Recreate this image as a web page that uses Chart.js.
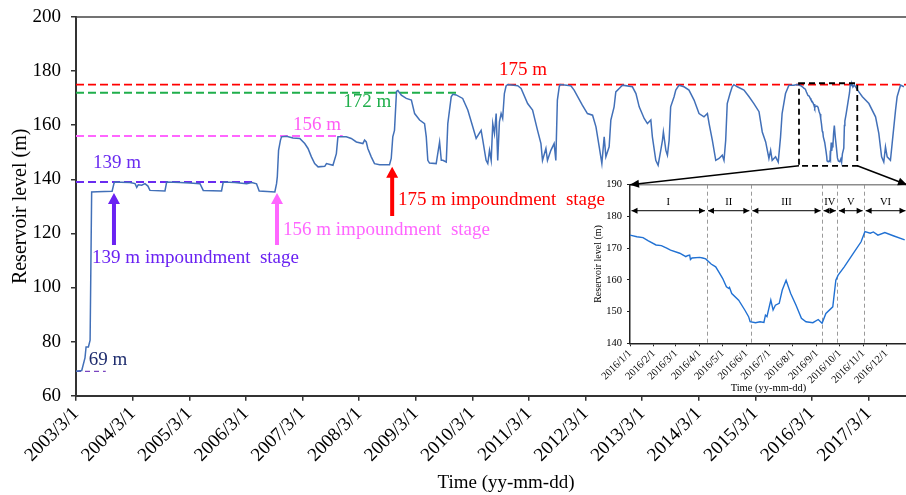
<!DOCTYPE html>
<html>
<head>
<meta charset="utf-8">
<script src="https://cdn.jsdelivr.net/npm/chart.js@4.4.1/dist/chart.umd.min.js"></script>
<style>
html, body { margin: 0; padding: 0; background: #fff; overflow: hidden; }
#wrap { position: relative; width: 906px; height: 495px; overflow: hidden; }
#wrap canvas { position: absolute; left: 0; top: 0; }
</style>
</head>
<body>
<div id="wrap">
  <canvas id="main" width="936" height="495"></canvas>
  <canvas id="inset" width="936" height="495"></canvas>
</div>
<script>
const SERIF = "'Liberation Serif','Times New Roman',serif";
const DAY_MS = 86400000;
const dayNum = s => Date.parse(s + 'T00:00:00Z') / DAY_MS;

// ---- Reservoir water level, 2003-2015 ----
const levelDates = [
  '2003-03-01','2003-04-07','2003-04-28','2003-05-05','2003-05-20','2003-05-31','2003-06-10','2003-07-15','2003-09-01','2003-10-20','2003-11-01','2003-11-07','2003-12-15',
  '2004-02-11','2004-03-16','2004-03-27','2004-04-06','2004-04-28','2004-05-19','2004-06-07','2004-06-20','2004-09-25','2004-10-06',
  '2005-01-01','2005-03-05','2005-05-09','2005-05-30','2005-09-25','2005-10-06','2005-12-20',
  '2006-03-06','2006-04-09','2006-05-09','2006-05-26','2006-09-04','2006-09-15','2006-09-20','2006-09-28','2006-10-10','2006-10-17','2006-11-18','2006-12-30',
  '2007-02-12','2007-03-16','2007-04-06','2007-04-28','2007-05-19','2007-06-10','2007-07-23','2007-08-03','2007-09-14','2007-10-06','2007-10-16','2007-12-09',
  '2008-01-10','2008-02-12','2008-03-25','2008-04-05','2008-04-16','2008-04-26','2008-05-18','2008-06-08','2008-07-11','2008-09-13','2008-09-24','2008-10-04','2008-10-15','2008-10-28','2008-11-06','2008-11-28','2008-12-30',
  '2009-02-01','2009-02-22','2009-03-26','2009-04-27','2009-05-08','2009-05-18','2009-05-29','2009-07-11','2009-08-02','2009-08-13','2009-08-23','2009-09-14','2009-09-24','2009-10-16','2009-10-26','2009-11-17','2009-12-29',
  '2010-01-31','2010-03-04','2010-03-26','2010-04-27','2010-05-08','2010-05-29','2010-06-09','2010-06-20','2010-07-01','2010-07-11','2010-07-22','2010-08-02','2010-08-12','2010-08-23','2010-09-03','2010-09-13','2010-09-24','2010-10-05','2010-10-16','2010-12-19',
  '2011-01-10','2011-02-21','2011-03-25','2011-04-26','2011-05-18','2011-05-28','2011-06-19','2011-06-29','2011-07-21','2011-08-11','2011-08-22','2011-09-01','2011-09-13','2011-09-19','2011-11-27','2011-12-18',
  '2012-02-09','2012-03-13','2012-04-15','2012-05-07','2012-05-28','2012-06-14','2012-06-29','2012-07-10','2012-07-31','2012-08-11','2012-09-01','2012-09-12','2012-10-15','2012-10-25','2012-12-28',
  '2013-01-20','2013-02-10','2013-03-14','2013-04-04','2013-04-26','2013-05-06','2013-05-28','2013-06-12','2013-06-29','2013-07-10','2013-07-16','2013-08-01','2013-08-11','2013-08-22','2013-09-01','2013-09-23','2013-10-04','2013-10-25','2013-11-26','2013-12-28',
  '2014-01-30','2014-03-03','2014-04-04','2014-04-26','2014-05-07','2014-05-28','2014-06-19','2014-07-10','2014-07-31','2014-08-11','2014-08-22','2014-09-01','2014-09-19','2014-10-03','2014-10-14','2014-11-05','2014-12-18',
  '2015-01-20','2015-02-20','2015-03-25','2015-04-15','2015-05-07','2015-05-28','2015-06-08','2015-06-18','2015-07-10','2015-07-27','2015-08-11','2015-08-21','2015-09-12','2015-10-04','2015-11-05','2015-11-26','2015-12-20'
];
const levelValues = [
  69.0,69.3,74.0,78.0,78.0,80.5,135.3,135.4,135.5,135.6,138.5,139.0,138.9,
  138.8,138.4,137.0,138.0,137.8,138.4,137.5,135.9,135.7,139.0,
  138.8,138.6,138.4,135.9,135.7,139.0,138.8,
  138.4,138.8,138.3,135.7,135.3,138.4,141.0,150.7,154.4,155.7,155.9,155.3,
  155.1,153.2,151.4,148.3,145.8,144.6,144.8,145.8,145.2,149.5,155.7,155.7,
  155.1,153.8,153.2,154.5,153.8,151.4,148.3,145.8,145.4,145.4,147.7,155.7,158.1,172.5,172.8,171.1,169.9,
  169.3,164.3,161.9,160.6,155.7,147.0,146.0,145.8,153.8,147.0,147.0,146.4,160.6,170.5,171.4,171.2,169.9,
  165.6,159.4,155.1,158.1,154.4,147.0,145.8,150.7,147.0,160.6,156.9,164.3,147.0,161.2,164.3,162.5,171.7,174.5,175.0,174.6,
  173.6,168.0,165.6,158.1,153.2,147.0,151.4,147.0,150.7,153.2,147.0,169.3,174.2,175.0,174.6,173.0,
  167.4,164.3,163.7,159.4,152.0,145.8,155.7,148.3,152.0,161.9,166.8,172.3,174.2,174.8,174.2,
  171.7,166.8,162.5,160.6,161.9,155.7,147.0,145.2,150.7,154.4,157.5,150.7,148.9,154.4,166.8,170.5,173.0,174.8,174.2,173.0,
  169.3,164.3,163.1,164.3,160.6,154.4,147.0,147.7,148.9,147.0,154.4,168.0,171.7,174.2,175.0,174.2,173.0,
  170.5,168.0,165.0,157.5,153.8,147.7,150.7,147.0,148.3,146.4,155.7,164.3,171.7,174.8,174.8,175.0,174.6
];

// ---- 2016 (also shown enlarged in the inset) ----
const dates2016 = [
  '2016-01-01','2016-01-10','2016-01-18','2016-01-25','2016-02-04','2016-02-11','2016-02-18','2016-02-23','2016-03-06','2016-03-14',
  '2016-03-16','2016-03-19','2016-03-20','2016-03-22','2016-04-01','2016-04-05','2016-04-09','2016-04-16','2016-04-22','2016-04-26',
  '2016-05-01','2016-05-06','2016-05-09','2016-05-10','2016-05-13','2016-05-22','2016-05-30','2016-06-04','2016-06-06','2016-06-13',
  '2016-06-19','2016-06-24','2016-06-26','2016-06-28','2016-07-03','2016-07-06','2016-07-09','2016-07-14','2016-07-18','2016-07-23',
  '2016-07-29','2016-08-05','2016-08-12','2016-08-18','2016-08-27','2016-09-03','2016-09-08','2016-09-13','2016-09-22','2016-09-26',
  '2016-09-29','2016-10-07','2016-10-19','2016-10-29','2016-11-03','2016-11-10','2016-11-14','2016-11-20','2016-11-29','2016-12-10',
  '2016-12-25'
];
const levels2016 = [
  174.1,173.6,173.3,172.3,171.0,170.8,170.0,169.4,168.4,167.3,
  167.6,167.8,166.4,166.9,167.1,166.9,166.6,165.0,164.1,162.5,
  160.5,157.8,157.3,157.6,155.7,153.6,150.5,148.4,146.8,146.5,
  146.8,146.6,148.9,148.4,153.6,150.5,152.0,152.6,156.8,159.9,
  155.7,152.0,147.9,146.8,146.5,147.5,146.3,149.4,151.5,159.9,
  161.5,164.1,168.4,172.0,175.2,174.7,175.1,174.1,174.9,173.9,
  172.6
];

// ---- 2017 ----
const dates2017 = ['2017-01-20','2017-03-03','2017-04-15','2017-05-06','2017-05-24','2017-06-07','2017-06-18','2017-06-29','2017-07-20','2017-07-31','2017-08-22','2017-09-01','2017-09-23','2017-10-15'];
const levels2017 = [170.5,168.0,163.1,157.0,148.3,146.4,152.0,148.3,147.0,153.2,165.6,170.5,174.8,174.2];

// ---- main axis ----
const mainRange = ['2003-03-01', '2018-05-10'];
const mainTickDates = ['2003-03-01','2004-03-01','2005-03-01','2006-03-01','2007-03-01','2008-03-01','2009-03-01','2010-03-01','2011-03-01','2012-03-01','2013-03-01','2014-03-01','2015-03-01','2016-03-01','2017-03-01'];
const mainTickLabels = ['2003/3/1','2004/3/1','2005/3/1','2006/3/1','2007/3/1','2008/3/1','2009/3/1','2010/3/1','2011/3/1','2012/3/1','2013/3/1','2014/3/1','2015/3/1','2016/3/1','2017/3/1'];

// ---- design levels (dashed) ----
const designLevels  = [175, 172, 156, 139, 69];
const designEnds    = ['2018-05-10', '2009-11-20', '2007-11-16', '2006-05-04', '2003-09-09'];
const designColors  = ['#ff0000', '#1fae4b', '#ff66ff', '#6a2cf0', '#7a45c0'];
const designLabels  = ['175 m', '172 m', '156 m', '139 m', '69 m'];
const designLabelAt = ['2011-01-22', '2008-04-22', '2007-06-03', '2003-11-20', '2003-09-24'];
const designLabelLv = [180.4, 168.6, 160.1, 146.0, 73.2];
const designLabelColors = ['#ff0000', '#1fae4b', '#ff5cf5', '#6a2cf0', '#1f2d6e'];

// ---- impoundment stages ----
const stageTexts      = ['139 m impoundment  stage', '156 m impoundment  stage', '175 m impoundment  stage'];
const stageTextAt     = ['2003-06-13', '2006-10-27', '2008-11-07'];
const stageTextLv     = [110.9, 121.3, 132.3];
const stageArrowAt    = ['2003-11-01', '2006-09-18', '2008-09-30'];
const stageArrowTail  = [115.7, 115.7, 126.4];
const stageArrowTip   = [134.9, 134.9, 144.6];
const stageColors     = ['#6a22f2', '#ff66ff', '#ff0000'];

// ---- enlarged window ----
const windowDates  = ['2015-12-08', '2016-12-18'];
const windowLevels = [145, 175.5];

// ---- inset axis and periods ----
const insetRange = ['2016-01-01', '2016-12-28'];
const insetTickDates = ['2016-01-01','2016-02-01','2016-03-01','2016-04-01','2016-05-01','2016-06-01','2016-07-01','2016-08-01','2016-09-01','2016-10-01','2016-11-01','2016-12-01'];
const insetTickLabels = ['2016/1/1','2016/2/1','2016/3/1','2016/4/1','2016/5/1','2016/6/1','2016/7/1','2016/8/1','2016/9/1','2016/10/1','2016/11/1','2016/12/1'];
const periodBounds = ['2016-04-10', '2016-06-07', '2016-09-08', '2016-09-28', '2016-11-02'];
const periodNames  = ['I', 'II', 'III', 'IV', 'V', 'VI'];
const periodArrowLevel = 181.8;
const periodLabelLevel = 184.6;

const toPoints = (ds, vs) => ds.map((d, i) => ({ x: dayNum(d), y: vs[i] }));
const mainPoints = toPoints(levelDates, levelValues)
  .concat(toPoints(dates2016, levels2016))
  .concat(toPoints(dates2017, levels2017));
const insetPoints = toPoints(dates2016, levels2016);

function blockArrow(ctx, x, yTail, yTip, color) {
  const sw = 2, hw = 6, hl = 11;
  ctx.save();
  ctx.fillStyle = color;
  ctx.beginPath();
  ctx.moveTo(x - sw, yTail);
  ctx.lineTo(x - sw, yTip + hl);
  ctx.lineTo(x - hw, yTip + hl);
  ctx.lineTo(x, yTip);
  ctx.lineTo(x + hw, yTip + hl);
  ctx.lineTo(x + sw, yTip + hl);
  ctx.lineTo(x + sw, yTail);
  ctx.closePath();
  ctx.fill();
  ctx.restore();
}

function arrowHead(ctx, x0, y0, x1, y1, len, half) {
  const a = Math.atan2(y1 - y0, x1 - x0);
  ctx.beginPath();
  ctx.moveTo(x1, y1);
  ctx.lineTo(x1 - len * Math.cos(a) + half * Math.sin(a), y1 - len * Math.sin(a) - half * Math.cos(a));
  ctx.lineTo(x1 - len * Math.cos(a) - half * Math.sin(a), y1 - len * Math.sin(a) + half * Math.cos(a));
  ctx.closePath();
  ctx.fill();
}

const mainMarks = {
  id: 'mainMarks',
  beforeDatasetsDraw(chart) {
    const { ctx, chartArea: a, scales: { x, y } } = chart;
    ctx.save();
    ctx.beginPath();
    ctx.rect(a.left, a.top, a.right - a.left, a.bottom - a.top);
    ctx.clip();
    designLevels.forEach((v, i) => {
      ctx.strokeStyle = designColors[i];
      ctx.lineWidth = v === 69 ? 1.3 : 1.8;
      ctx.setLineDash(v === 69 ? [5, 4] : [8, 4]);
      ctx.beginPath();
      ctx.moveTo(a.left, y.getPixelForValue(v));
      ctx.lineTo(x.getPixelForValue(dayNum(designEnds[i])), y.getPixelForValue(v));
      ctx.stroke();
    });
    ctx.restore();
  },
  afterDatasetsDraw(chart) {
    const { ctx, chartArea: a, scales: { x, y } } = chart;
    ctx.save();
    // frame line along the top of the plot
    ctx.strokeStyle = '#444';
    ctx.lineWidth = 1.5;
    ctx.beginPath();
    ctx.moveTo(a.left, a.top);
    ctx.lineTo(a.right, a.top);
    ctx.stroke();

    ctx.textBaseline = 'middle';
    ctx.font = '19px ' + SERIF;
    ctx.textAlign = 'center';
    designLabels.forEach((t, i) => {
      ctx.fillStyle = designLabelColors[i];
      ctx.fillText(t, x.getPixelForValue(dayNum(designLabelAt[i])), y.getPixelForValue(designLabelLv[i]));
    });
    ctx.textAlign = 'left';
    stageTexts.forEach((t, i) => {
      ctx.fillStyle = stageColors[i];
      ctx.fillText(t, x.getPixelForValue(dayNum(stageTextAt[i])), y.getPixelForValue(stageTextLv[i]));
      blockArrow(ctx, x.getPixelForValue(dayNum(stageArrowAt[i])),
        y.getPixelForValue(stageArrowTail[i]), y.getPixelForValue(stageArrowTip[i]), stageColors[i]);
    });

    // dashed window around the enlarged year
    const bx0 = x.getPixelForValue(dayNum(windowDates[0]));
    const bx1 = x.getPixelForValue(dayNum(windowDates[1]));
    const by0 = y.getPixelForValue(windowLevels[1]);
    const by1 = y.getPixelForValue(windowLevels[0]);
    ctx.strokeStyle = '#000';
    ctx.lineWidth = 1.8;
    ctx.setLineDash([6, 4]);
    ctx.strokeRect(bx0, by0, bx1 - bx0, by1 - by0);
    ctx.restore();
  }
};

const mainChart = new Chart(document.getElementById('main'), {
  type: 'line',
  data: {
    datasets: [{
      data: mainPoints,
      borderColor: '#4270b8',
      borderWidth: 1.5,
      pointRadius: 0,
      tension: 0,
      fill: false
    }]
  },
  options: {
    responsive: false,
    animation: false,
    devicePixelRatio: 1,
    layout: { padding: { left: 0, right: 0, top: 17, bottom: 0 } },
    plugins: { legend: { display: false }, tooltip: { enabled: false } },
    scales: {
      x: {
        type: 'linear',
        min: dayNum(mainRange[0]),
        max: dayNum(mainRange[1]),
        afterBuildTicks: s => { s.ticks = mainTickDates.map(d => ({ value: dayNum(d) })); },
        afterFit: s => { s.height = 99.3; s.paddingLeft = 0; s.paddingRight = 0; },
        ticks: {
          autoSkip: false, minRotation: 45, maxRotation: 45, padding: 2,
          color: '#000', font: { family: SERIF, size: 19 },
          callback: (v, i) => mainTickLabels[i]
        },
        grid: { display: true, drawOnChartArea: false, drawTicks: true, tickLength: 5, color: '#333', lineWidth: 1.5 },
        border: { display: true, color: '#333', width: 2 },
        title: { display: true, text: 'Time (yy-mm-dd)', color: '#000', font: { family: SERIF, size: 19 }, padding: { top: 0, bottom: 1 } }
      },
      y: {
        min: 60, max: 200,
        afterFit: s => { s.width = 76; s.paddingTop = 0; s.paddingBottom = 0; },
        ticks: { stepSize: 20, padding: 10, color: '#000', font: { family: SERIF, size: 19 } },
        grid: { display: true, drawOnChartArea: false, drawTicks: true, tickLength: 5, color: '#333', lineWidth: 1.5 },
        border: { display: true, color: '#333', width: 2 },
        title: { display: true, text: 'Reservoir level (m)', color: '#000', font: { family: SERIF, size: 20 }, padding: { top: 9, bottom: 0 } }
      }
    }
  },
  plugins: [mainMarks]
});

const insetMarks = {
  id: 'insetMarks',
  beforeDatasetsDraw(chart) {
    const { ctx, chartArea: a, scales: { x } } = chart;
    ctx.save();
    ctx.strokeStyle = '#9a9a9a';
    ctx.lineWidth = 1;
    ctx.setLineDash([4, 3]);
    periodBounds.forEach(d => {
      const px = Math.round(x.getPixelForValue(dayNum(d))) + 0.5;
      ctx.beginPath();
      ctx.moveTo(px, a.top);
      ctx.lineTo(px, a.bottom);
      ctx.stroke();
    });
    ctx.restore();
  },
  afterDraw(chart) {
    const { ctx, chartArea: a, scales: { x, y } } = chart;
    ctx.save();
    // light frame line along the top of the inset
    ctx.strokeStyle = '#8c8c8c';
    ctx.lineWidth = 1.5;
    ctx.beginPath();
    ctx.moveTo(a.left, a.top);
    ctx.lineTo(a.right, a.top);
    ctx.stroke();

    // period spans with double-headed arrows
    const edges = [x.min].concat(periodBounds.map(dayNum)).concat([x.max]);
    const ay = y.getPixelForValue(periodArrowLevel);
    const ly = y.getPixelForValue(periodLabelLevel);
    ctx.strokeStyle = '#000';
    ctx.fillStyle = '#000';
    ctx.lineWidth = 1;
    ctx.font = '10.5px ' + SERIF;
    ctx.textAlign = 'center';
    ctx.textBaseline = 'middle';
    for (let i = 0; i < periodNames.length; i++) {
      const x0 = x.getPixelForValue(edges[i]) + 1.5;
      const x1 = x.getPixelForValue(edges[i + 1]) - 1.5;
      ctx.beginPath();
      ctx.moveTo(x0, ay);
      ctx.lineTo(x1, ay);
      ctx.stroke();
      arrowHead(ctx, x1, ay, x0, ay, 6, 3);
      arrowHead(ctx, x0, ay, x1, ay, 6, 3);
      ctx.fillText(periodNames[i], (x0 + x1) / 2, ly);
    }

    // connectors from the dashed window to the inset corners
    const mx = mainChart.scales.x, my = mainChart.scales.y;
    const bx0 = mx.getPixelForValue(dayNum(windowDates[0]));
    const bx1 = mx.getPixelForValue(dayNum(windowDates[1]));
    const by = my.getPixelForValue(windowLevels[0]);
    ctx.lineWidth = 1.5;
    [[bx0, a.left], [bx1, a.right]].forEach(([fromX, toX]) => {
      ctx.beginPath();
      ctx.moveTo(fromX, by);
      ctx.lineTo(toX, a.top);
      ctx.stroke();
      arrowHead(ctx, fromX, by, toX, a.top, 9, 4);
    });
    ctx.restore();
  }
};

new Chart(document.getElementById('inset'), {
  type: 'line',
  data: {
    datasets: [{
      data: insetPoints,
      borderColor: '#2171d3',
      borderWidth: 1.4,
      pointRadius: 0,
      tension: 0,
      fill: false
    }]
  },
  options: {
    responsive: false,
    animation: false,
    devicePixelRatio: 1,
    layout: { padding: { left: 585, right: 29, top: 184.7, bottom: 100 } },
    plugins: { legend: { display: false }, tooltip: { enabled: false } },
    scales: {
      x: {
        type: 'linear',
        min: dayNum(insetRange[0]),
        max: dayNum(insetRange[1]),
        afterBuildTicks: s => { s.ticks = insetTickDates.map(d => ({ value: dayNum(d) })); },
        afterFit: s => { s.height = 51.7; },
        ticks: {
          autoSkip: false, minRotation: 45, maxRotation: 45, padding: 1,
          color: '#000', font: { family: SERIF, size: 10.5 },
          callback: (v, i) => insetTickLabels[i]
        },
        grid: { display: true, drawOnChartArea: false, drawTicks: true, tickLength: 3, color: '#222', lineWidth: 1 },
        border: { display: true, color: '#222', width: 1.5 },
        title: { display: true, text: 'Time (yy-mm-dd)', color: '#000', font: { family: SERIF, size: 10.5 }, padding: { top: 0, bottom: 0.7 } }
      },
      y: {
        min: 140, max: 190,
        afterFit: s => { s.width = 45; },
        ticks: { stepSize: 10, padding: 5, color: '#000', font: { family: SERIF, size: 10.5 } },
        grid: { display: true, drawOnChartArea: false, drawTicks: true, tickLength: 3, color: '#222', lineWidth: 1 },
        border: { display: true, color: '#222', width: 1.5 },
        title: { display: true, text: 'Reservoir level (m)', color: '#000', font: { family: SERIF, size: 10 }, padding: { top: 7, bottom: 0 } }
      }
    }
  },
  plugins: [insetMarks]
});
</script>
</body>
</html>
